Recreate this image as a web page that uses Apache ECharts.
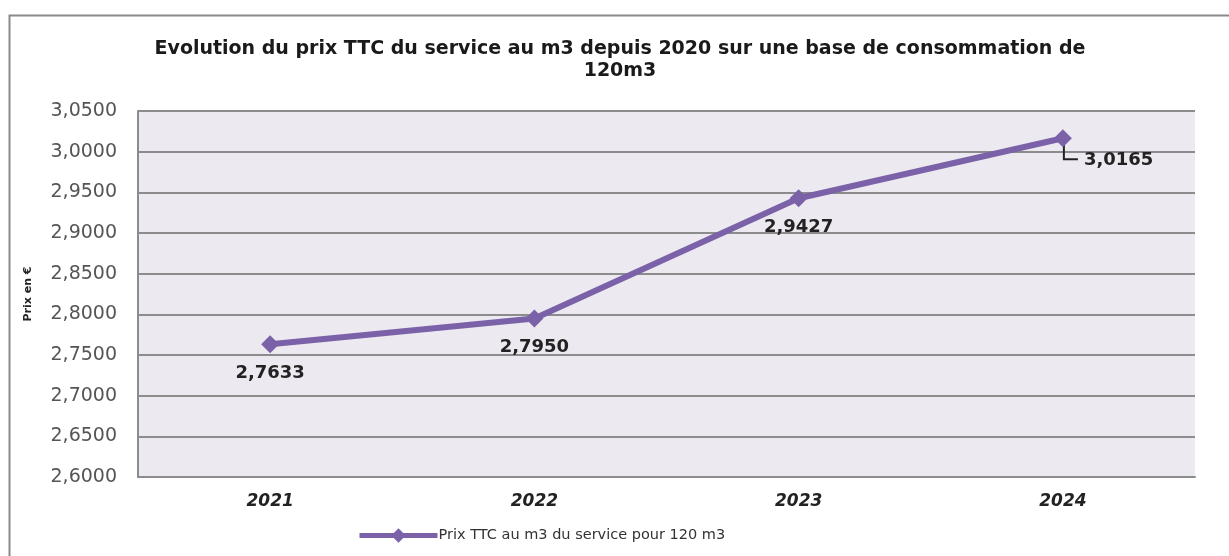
<!DOCTYPE html>
<html lang="fr">
<head>
    <meta charset="UTF-8" />
    <title>Evolution du prix TTC</title>
    <script src="https://cdn.jsdelivr.net/npm/echarts@6/dist/echarts.min.js"></script>
    <style>
        html, body { margin: 0; padding: 0; background: #fff; }
        #chart { width: 1229px; height: 556px; }
    </style>
</head>
<body>
    <div id="chart"></div>
    <script>
        // data
        const years = ["2021", "2022", "2023", "2024"];
        const prices = [2.7633, 2.7950, 2.9427, 3.0165];
        const seriesName = "Prix TTC au m3 du service pour 120 m3";

        let myChart = echarts.init(document.getElementById("chart"));

        const fmt = v => v.toFixed(4).replace(".", ",");
        const purple = "#7b62a8";
        const font = "DejaVu Sans";

        // last point gets its label on the right, with a small leader line
        let points = prices.map((v, i) => {
            let item = { value: v };
            if (i === prices.length - 1) {
                item.label = { position: "right", distance: 12, offset: [0, 22] };
            }
            return item;
        });

        let option = {
            animation: false,
            textStyle: { fontFamily: font },
            title: {
                text: "Evolution du prix TTC du service au m3 depuis 2020 sur une base de consommation de\n120m3",
                left: 615,
                textAlign: "center",
                top: 33,
                textStyle: {
                    fontSize: 19,
                    fontWeight: "bold",
                    color: "#1a1a1a",
                    lineHeight: 22,
                    fontFamily: font
                }
            },
            legend: {
                bottom: 8,
                left: 352,
                itemWidth: 78,
                itemHeight: 18,
                itemGap: 0,
                lineStyle: { width: 5 },
                textStyle: { fontSize: 14.5, color: "#333", padding: [0, 0, 0, -4] },
                data: [seriesName]
            },
            grid: {
                left: 138,
                top: 111,
                right: 34,
                bottom: 79,
                show: true,
                backgroundColor: "#ede9f0",
                borderWidth: 0
            },
            xAxis: {
                type: "category",
                data: years,
                axisLine: { lineStyle: { color: "#8c8c8c", width: 2 } },
                axisTick: { show: false },
                axisLabel: {
                    fontSize: 17,
                    fontWeight: "bold",
                    fontStyle: "italic",
                    color: "#222",
                    margin: 16
                }
            },
            yAxis: {
                type: "value",
                min: 2.6,
                max: 3.05,
                interval: 0.05,
                name: "Prix en €",
                nameLocation: "middle",
                nameGap: 104,
                nameTextStyle: { fontSize: 11, fontWeight: "bold", color: "#222" },
                axisLine: { show: true, lineStyle: { color: "#8c8c8c", width: 2 } },
                axisTick: { show: false },
                axisLabel: {
                    fontSize: 19,
                    color: "#555",
                    margin: 21,
                    formatter: fmt
                },
                splitLine: { lineStyle: { color: "#8c8c8c", width: 2 } }
            },
            series: [
                {
                    name: seriesName,
                    type: "line",
                    data: points,
                    symbol: "diamond",
                    symbolSize: 18,
                    lineStyle: { color: purple, width: 6 },
                    itemStyle: { color: purple },
                    label: {
                        show: true,
                        position: "bottom",
                        distance: 11,
                        fontSize: 18,
                        fontWeight: "bold",
                        color: "#222",
                        formatter: p => fmt(p.value)
                    }
                }
            ]
        };

        myChart.setOption(option);

        // outer frame + leader line for the last label (placed via the chart's own scales)
        let last = prices.length - 1;
        let pt = myChart.convertToPixel({ seriesIndex: 0 }, [last, prices[last]]);
        myChart.setOption({
            graphic: [
                {
                    type: "rect",
                    shape: { x: 9.5, y: 15.5, width: 1240, height: 560 },
                    style: { fill: "none", stroke: "#8a8a8a", lineWidth: 2 },
                    silent: true
                },
                {
                    type: "polyline",
                    shape: { points: [[pt[0] + 1, pt[1] + 6], [pt[0] + 1, pt[1] + 21], [pt[0] + 15, pt[1] + 21]] },
                    style: { fill: "none", stroke: "#222", lineWidth: 2 },
                    silent: true
                }
            ]
        });
    </script>
</body>
</html>
